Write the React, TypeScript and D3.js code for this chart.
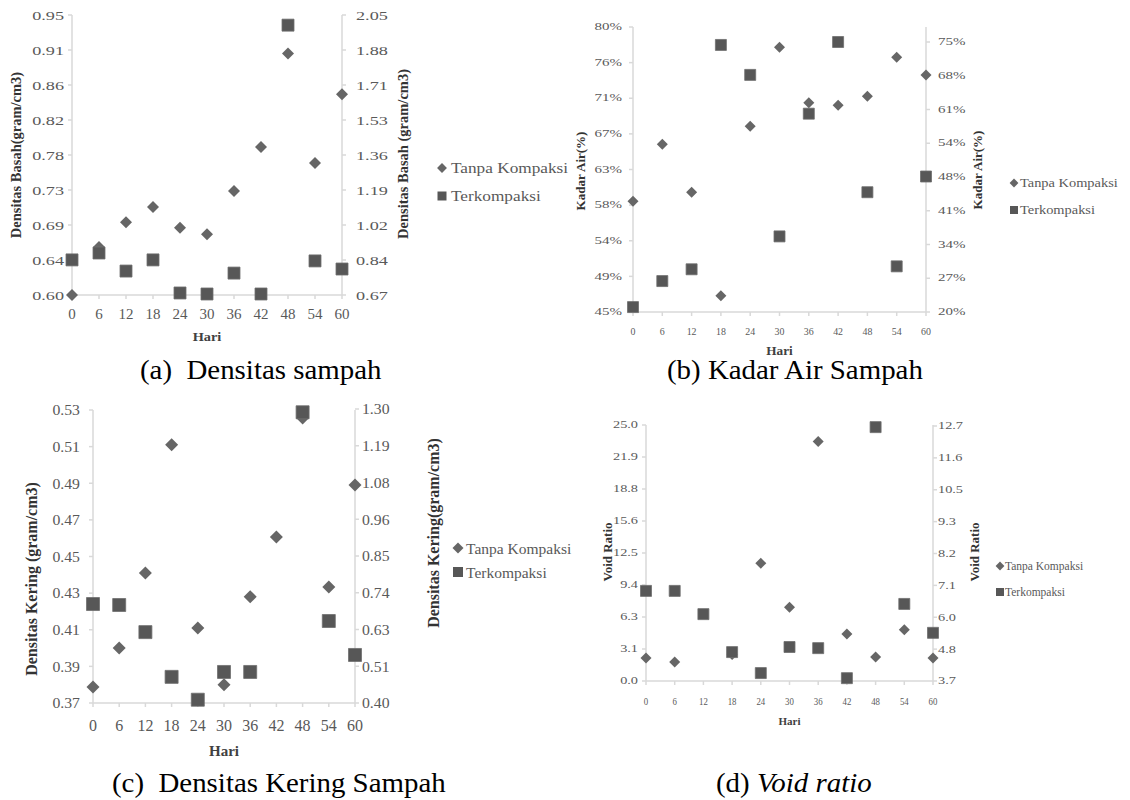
import * as d3 from "d3";

// hari pengamatan
const days = [0, 6, 12, 18, 24, 30, 36, 42, 48, 54, 60];

// (a) densitas basah
const aTanpa = [0.6, 0.66, 0.691, 0.71, 0.684, 0.676, 0.73, 0.785, 0.902, 0.765, 0.851];
const aTerk = [0.843, 0.877, 0.788, 0.843, 0.68, 0.675, 0.778, 0.675, 2.0, 0.838, 0.798];
const aLeftTicks = ["0.60", "0.64", "0.69", "0.73", "0.78", "0.82", "0.86", "0.91", "0.95"];
const aRightTicks = ["0.67", "0.84", "1.02", "1.19", "1.36", "1.53", "1.71", "1.88", "2.05"];

// (b) kadar air (%)
const bTanpa = [58.6, 65.6, 59.7, 47.0, 67.8, 77.5, 70.7, 70.4, 71.5, 76.3, 74.1];
const bTerk = [21.0, 26.3, 28.7, 74.4, 68.3, 35.4, 60.4, 75.0, 44.4, 29.3, 47.6];
const bLeftTicks = ["45%", "49%", "54%", "58%", "63%", "67%", "71%", "76%", "80%"];
const bRightTicks = ["20%", "27%", "34%", "41%", "48%", "54%", "61%", "68%", "75%"];

// (c) densitas kering
const cTanpa = [0.3787, 0.4, 0.441, 0.511, 0.411, 0.38, 0.428, 0.4607, 0.5256, 0.4334, 0.489];
const cTerk = [0.703, 0.7, 0.617, 0.48, 0.41, 0.495, 0.495, null, 1.29, 0.651, 0.547];
const cLeftTicks = ["0.37", "0.39", "0.41", "0.43", "0.45", "0.47", "0.49", "0.51", "0.53"];
const cRightTicks = ["0.40", "0.51", "0.63", "0.74", "0.85", "0.96", "1.08", "1.19", "1.30"];

// (d) void ratio
const dTanpa = [2.25, 1.86, null, 2.6, 11.5, 7.2, 23.4, 4.6, 2.34, 5.0, 2.25];
const dTerk = [6.88, 6.88, 6.06, 4.72, 3.98, 4.9, 4.86, 3.8, 12.66, 6.42, 5.4];
const dLeftTicks = ["0.0", "3.1", "6.3", "9.4", "12.5", "15.6", "18.8", "21.9", "25.0"];
const dRightTicks = ["3.7", "4.8", "6.0", "7.1", "8.2", "9.3", "10.5", "11.6", "12.7"];

const serif = "Liberation Serif, Times New Roman, DejaVu Serif, serif";
const gray = "#595959";

function T({ x, y, size, sx = 1, rot = 0, anchor = "start", bold = false, fill = gray, base = "auto", children }: any) {
  return (
    <text
      transform={`translate(${x},${y}) rotate(${rot}) scale(${sx},1)`}
      textAnchor={anchor}
      dominantBaseline={base}
      fill={fill}
      style={{
        whiteSpace: "pre",
        fontFamily: serif,
        fontSize: size + "px",
        fontWeight: bold ? "bold" : "normal",
      }}
    >
      {children}
    </text>
  );
}

const diamondPath = (r: number) => d3.symbol(d3.symbolSquare, 2 * r * r)() as string;
const squarePath = (s: number) => d3.symbol(d3.symbolSquare, s * s)() as string;

function Panel({ c }: any) {
  const x = d3.scaleLinear().domain([0, 60]).range([c.x0, c.x1]);
  const yl = d3.scaleLinear().domain(c.lDom).range([c.yBot, c.yTop]);
  const yr = d3.scaleLinear().domain(c.rDom).range([c.yBot, c.rTop]);
  const lStep = (c.lDom[1] - c.lDom[0]) / (c.lTicks.length - 1);
  const rStep = (c.rDom[1] - c.rDom[0]) / (c.rTicks.length - 1);
  const axis = "#d9d9d9";
  return (
    <g>
      {/* axes */}
      <line x1={c.x0} x2={c.x0} y1={c.yTop} y2={c.yBot} stroke={axis} strokeWidth={1.5} />
      <line x1={c.x1} x2={c.x1} y1={c.yTop} y2={c.yBot} stroke={axis} strokeWidth={1.5} />
      <line x1={c.x0} x2={c.x1} y1={c.yBot} y2={c.yBot} stroke={axis} strokeWidth={1.5} />
      {c.lTicks.map((t: string, i: number) => {
        const yy = yl(c.lDom[0] + i * lStep);
        return (
          <g key={"l" + i}>
            <line x1={c.x0 - 4} x2={c.x0} y1={yy} y2={yy} stroke={axis} strokeWidth={1.5} />
            <T x={c.x0 - c.lGap} y={yy} size={c.tf} sx={c.tsx} anchor="end" base="central">{t}</T>
          </g>
        );
      })}
      {c.rTicks.map((t: string, i: number) => {
        const yy = yr(c.rDom[0] + i * rStep);
        return (
          <g key={"r" + i}>
            <line x1={c.x1} x2={c.x1 + 4} y1={yy} y2={yy} stroke={axis} strokeWidth={1.5} />
            <T x={c.x1 + c.rGap} y={yy} size={c.tf} sx={c.tsx} base="central">{t}</T>
          </g>
        );
      })}
      {days.map((d) => (
        <g key={"x" + d}>
          <line x1={x(d)} x2={x(d)} y1={c.yBot} y2={c.yBot + 4} stroke={axis} strokeWidth={1.5} />
          <T x={x(d)} y={c.xLabY} size={c.xf} sx={c.xsx} anchor="middle">{String(d)}</T>
        </g>
      ))}
      <T x={(c.x0 + c.x1) / 2} y={c.hariY} size={c.hariF} sx={c.hariSx} anchor="middle" bold fill="#404040">Hari</T>
      <T x={c.lt[0]} y={c.lt[1]} size={c.titleF} rot={-90} anchor="middle" base="central" bold fill="#333">{c.lt[2]}</T>
      <T x={c.rt[0]} y={c.rt[1]} size={c.titleF} rot={-90} anchor="middle" base="central" bold fill="#333">{c.rt[2]}</T>

      {/* marks */}
      {c.tanpa.map((v: number | null, i: number) =>
        v == null ? null : (
          <path key={"d" + i} d={diamondPath(c.dr)} transform={`translate(${x(days[i])},${yl(v)}) rotate(45)`} fill="#666" />
        )
      )}
      {c.terk.map((v: number | null, i: number) =>
        v == null ? null : (
          <path key={"s" + i} d={squarePath(c.sq)} transform={`translate(${x(days[i])},${yr(v)})`} fill="#575757" stroke="#6e6e6e" strokeWidth={0.8} />
        )
      )}

      {/* legend */}
      <path d={diamondPath(c.leg.m * 0.55)} transform={`translate(${c.leg.x},${c.leg.y1}) rotate(45)`} fill="#666" />
      <T x={c.leg.tx} y={c.leg.y1} size={c.leg.f} sx={c.leg.sx} base="central">Tanpa Kompaksi</T>
      <path d={squarePath(c.leg.m)} transform={`translate(${c.leg.x},${c.leg.y2})`} fill="#575757" />
      <T x={c.leg.tx} y={c.leg.y2} size={c.leg.f} sx={c.leg.sx} base="central">Terkompaksi</T>

      {/* caption */}
      <text
        transform={`translate(${c.cap.x},${c.cap.y}) scale(1.07,1)`}
        fill="#000"
        style={{ whiteSpace: "pre", fontFamily: serif, fontSize: "27px" }}
      >
        {c.cap.a}
        {c.cap.italic ? <tspan style={{ fontStyle: "italic" }}>{c.cap.b}</tspan> : c.cap.b}
      </text>
    </g>
  );
}

const panels = [
  {
    x0: 72, x1: 342, yTop: 15, yBot: 295, rTop: 15,
    lDom: [0.6, 0.95], rDom: [0.67, 2.05], lTicks: aLeftTicks, rTicks: aRightTicks,
    tf: 13, tsx: 1.4, lGap: 8, rGap: 14, xf: 15, xsx: 1, xLabY: 319,
    hariY: 341, hariF: 13, hariSx: 1.1, titleF: 14.5,
    lt: [16, 155, "Densitas Basah(gram/cm3)"], rt: [403, 154, "Densitas Basah (gram/cm3)"],
    tanpa: aTanpa, terk: aTerk, dr: 6, sq: 12,
    leg: { x: 442, tx: 451, y1: 168, y2: 196, f: 15, sx: 1.15, m: 9 },
    cap: { x: 140, y: 379, a: "(a)  Densitas sampah", b: "" },
  },
  {
    x0: 633, x1: 926, yTop: 27, yBot: 312, rTop: 42,
    lDom: [45, 80], rDom: [20, 75], lTicks: bLeftTicks, rTicks: bRightTicks,
    tf: 10, tsx: 1.5, lGap: 11, rGap: 12, xf: 11, xsx: 0.9, xLabY: 335,
    hariY: 355, hariF: 12, hariSx: 1.1, titleF: 13,
    lt: [580, 171, "Kadar Air(%)"], rt: [977, 170, "Kadar Air(%)"],
    tanpa: bTanpa, terk: bTerk, dr: 5.5, sq: 11,
    leg: { x: 1014, tx: 1020, y1: 183, y2: 210, f: 12, sx: 1.2, m: 8 },
    cap: { x: 667, y: 379, a: "(b) Kadar Air Sampah", b: "" },
  },
  {
    x0: 93, x1: 355, yTop: 410, yBot: 703, rTop: 409,
    lDom: [0.37, 0.53], rDom: [0.4, 1.3], lTicks: cLeftTicks, rTicks: cRightTicks,
    tf: 15, tsx: 1.05, lGap: 13, rGap: 7, xf: 16, xsx: 1, xLabY: 731,
    hariY: 756, hariF: 15, hariSx: 1, titleF: 16,
    lt: [31, 579, "Densitas Kering (gram/cm3)"], rt: [433, 533, "Densitas Kering(gram/cm3)"],
    tanpa: cTanpa, terk: cTerk, dr: 6.5, sq: 13,
    leg: { x: 458, tx: 466, y1: 548, y2: 572, f: 15.5, sx: 1, m: 10 },
    cap: { x: 112, y: 792, a: "(c)  Densitas Kering Sampah", b: "" },
  },
  {
    x0: 646, x1: 933, yTop: 425, yBot: 681, rTop: 426,
    lDom: [0, 25], rDom: [3.7, 12.7], lTicks: dLeftTicks, rTicks: dRightTicks,
    tf: 11, tsx: 1.3, lGap: 8, rGap: 5, xf: 11, xsx: 0.8, xLabY: 705,
    hariY: 725, hariF: 11, hariSx: 1, titleF: 13,
    lt: [607, 552, "Void Ratio"], rt: [974, 552, "Void Ratio"],
    tanpa: dTanpa, terk: dTerk, dr: 5.5, sq: 11,
    leg: { x: 1000, tx: 1005, y1: 566, y2: 592, f: 11.5, sx: 1, m: 8 },
    cap: { x: 716, y: 792, a: "(d) ", b: "Void ratio", italic: true },
  },
];

export default function App() {
  return (
    <svg width={1130} height={800} style={{ position: "absolute", left: 0, top: 0, background: "#fff" }}>
      <rect width={1130} height={800} fill="#fff" />
      {panels.map((c, i) => (
        <Panel key={i} c={c} />
      ))}
    </svg>
  );
}
